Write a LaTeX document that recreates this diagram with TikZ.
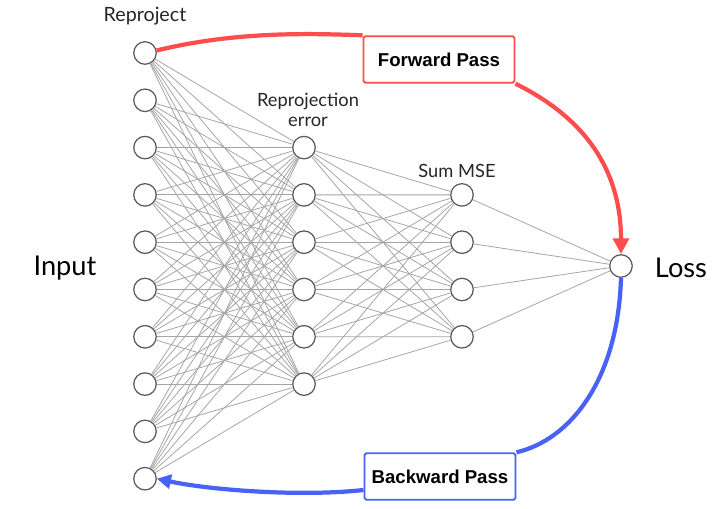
\documentclass[tikz,border=0pt]{standalone}
\usepackage{fontspec}
\setmainfont{Lato}
\newfontfamily\passfont{Liberation Sans}
\usetikzlibrary{arrows.meta}

\definecolor{fwdred}{RGB}{255,77,77}
\definecolor{bwdblue}{RGB}{72,98,246}
\definecolor{wiregray}{RGB}{165,165,165}

\tikzset{
  neuron/.style={circle, draw=black!65, line width=0.7pt, fill=white,
    minimum size=0.45cm, inner sep=0pt},
  wire/.style={wiregray, line width=0.45pt},
  passbox/.style={draw, line width=1.1pt, fill=white, rounded corners=1pt,
    minimum width=3.02cm, minimum height=0.93cm,
    font=\passfont\bfseries\fontsize{10.6}{12}\selectfont},
  layertext/.style={font=\fontsize{10.4}{12.5}\selectfont, align=center, text=black!85},
  sidetext/.style={font=\fontsize{15.5}{18}\selectfont, text=black}
}

\begin{document}
\begin{tikzpicture}[x=0.02cm, y=-0.02cm]
\useasboundingbox (0,0) rectangle (724,509);

% input layer
\foreach \i in {1,...,10}
  \node [neuron] (in\i) at (145,{53+47.3*(\i-1)}) {};

% reprojection error layer
\foreach \i in {1,...,6}
  \node [neuron] (re\i) at (304,{147.6+47.3*(\i-1)}) {};

% sum mse layer
\foreach \i in {1,...,4}
  \node [neuron] (ms\i) at (462,{194.9+47.3*(\i-1)}) {};

% loss
\node [neuron] (loss) at (621,266) {};

% wires
\foreach \i in {1,...,10}
  \foreach \j in {1,...,6}
    \draw [wire] (in\i) -- (re\j);
\foreach \i in {1,...,6}
  \foreach \j in {1,...,4}
    \draw [wire] (re\i) -- (ms\j);
\foreach \i in {1,...,4}
  \draw [wire] (ms\i) -- (loss);

% labels
\node [layertext, font=\fontsize{11.2}{13}\selectfont] (lreproj) at (145,16) {Reproject};
\node [layertext] (lerror) at (308,110) {Reprojection\\[-1pt]error};
\node [layertext] (lsum) at (457,171) {Sum MSE};
\node [sidetext] (linput) at (65,268) {Input};
\node [sidetext] (lloss) at (681,268) {Loss};

% boxes
\node [passbox, draw=fwdred] (fwd) at (439,59.5) {Forward Pass};
\node [passbox, draw=bwdblue] (bwd) at (440,476.5) {Backward Pass};

% forward pass
\draw [fwdred, line width=2.4pt]
  (in1.12) .. controls (240,30) and (320,34) .. (fwd.north west);
\draw [fwdred, line width=2.4pt, -{Triangle[length=9pt,width=9pt]}]
  (fwd.south east) .. controls (585,118) and (621,170) .. (loss.north);

% backward pass
\draw [bwdblue, line width=2.4pt]
  (loss.south) .. controls (618,380) and (570,440) .. (bwd.north east);
\draw [bwdblue, line width=2.4pt, -{Triangle[length=8pt,width=8pt]}]
  ([yshift=-0.27cm]bwd.west) .. controls (300,497) and (210,490) .. (in10.east);

\end{tikzpicture}
\end{document}
